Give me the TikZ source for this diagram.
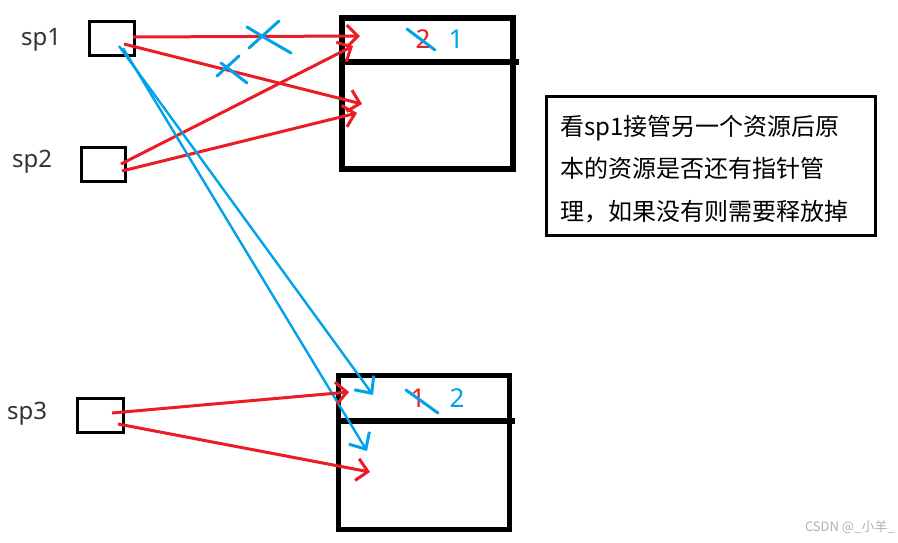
\documentclass[tikz,border=0pt]{standalone}
\usepackage{fontspec}
\setmainfont{Noto Sans}
\newfontfamily\cjk{Noto Sans CJK SC}
\usetikzlibrary{arrows.meta}
\definecolor{pred}{HTML}{ED1C24}
\definecolor{pblue}{HTML}{00A2E8}
\tikzset{
  ptr/.style={draw=black,line width=3pt,inner sep=0pt},
  res/.style={draw=black,line width=5.5pt,inner sep=0pt},
  lbl/.style={font=\fontsize{24}{28}\selectfont,text=black!80,inner sep=0pt},
  num/.style={font=\fontsize{26}{28}\selectfont,inner sep=0pt},
  redarr/.style={draw=pred,line width=3pt,-{Straight Barb[length=11pt,width=22pt,line width=3pt]}},
  bluearr/.style={draw=pblue,line width=2.4pt,-{Straight Barb[length=13pt,width=24pt,line width=3pt]}},
  strike/.style={draw=pblue,line width=3pt,line cap=round},
}
\begin{document}
\begin{tikzpicture}[x=1pt,y=-1pt]
\useasboundingbox[fill=white] (0,0) rectangle (898,542);
% pointer boxes
\node[ptr,minimum width=45pt,minimum height=34pt] (sp1) at (112,38.5) {};
\node[ptr,minimum width=44pt,minimum height=34pt] (sp2) at (103.5,164.5) {};
\node[ptr,minimum width=46pt,minimum height=34pt] (sp3) at (100.5,415.5) {};
\node[lbl] (l1) at (41,40) {sp1};
\node[lbl] (l2) at (32,162) {sp2};
\node[lbl] (l3) at (27,414) {sp3};
% resource boxes
\node[res,minimum width=171pt,minimum height=151pt] (top) at (427.5,93.5) {};
\coordinate (tdl) at (342,62);
\coordinate (tdr) at (519,62);
\draw[line width=5.5pt] (tdl) -- (tdr);
\node[res,minimum width=171pt,minimum height=154pt] (bot) at (424,452.5) {};
\coordinate (bdl) at (338,421);
\coordinate (bdr) at (515,421);
\draw[line width=5.5pt] (bdl) -- (bdr);
% counts
\node[num,text=pred] (c2) at (423,39) {2};
\node[num,text=pblue] (c1) at (456,39) {1};
\coordinate (s1a) at (407,29); \coordinate (s1b) at (435,50);
\draw[strike] (s1a) -- (s1b);
\node[num,text=pred] (d1) at (418,398) {1};
\node[num,text=pblue] (d2) at (457,398) {2};
\coordinate (s2a) at (406,390); \coordinate (s2b) at (438,413);
\draw[strike] (s2a) -- (s2b);
% note
\node[draw=black,line width=3pt,minimum width=329pt,minimum height=139pt,inner sep=0pt] (note) at (711,166) {};
\node[anchor=west,align=left,font=\cjk\fontsize{24}{42.5}\selectfont,inner sep=0pt] (notetxt) at (560,169)
  {看sp1接管另一个资源后原\\本的资源是否还有指针管\\理，如果没有则需要释放掉};
% endpoints
\coordinate (a1s) at (133,37); \coordinate (a1e) at (360,36);
\coordinate (a2s) at (124,44); \coordinate (a2e) at (362,104);
\coordinate (a3s) at (121,164); \coordinate (a3e) at (353,46);
\coordinate (a4s) at (122,171); \coordinate (a4e) at (357,113);
\coordinate (b1s) at (119,46); \coordinate (b1e) at (373,395);
\coordinate (b2s) at (123,48); \coordinate (b2e) at (367,451);
\coordinate (c1s) at (112,413); \coordinate (c1e) at (349,392);
\coordinate (c2s) at (118,424); \coordinate (c2e) at (370,472);
% arrows
\draw[redarr] (a1s) -- (a1e);
\draw[redarr] (a2s) -- (a2e);
\draw[redarr] (a3s) -- (a3e);
\draw[redarr] (a4s) -- (a4e);
\draw[bluearr] (b1s) -- (b1e);
\draw[bluearr] (b2s) -- (b2e);
\draw[redarr] (c1s) -- (c1e);
\draw[redarr] (c2s) -- (c2e);
% crosses
\coordinate (x1a) at (249,48); \coordinate (x1b) at (279,21);
\coordinate (x1c) at (247,27); \coordinate (x1d) at (291,53);
\draw[strike] (x1a) -- (x1b); \draw[strike] (x1c) .. controls (265,38) .. (x1d);
\coordinate (x2a) at (217,76); \coordinate (x2b) at (239,56);
\coordinate (x2c) at (221,63); \coordinate (x2d) at (247,83);
\draw[strike] (x2a) -- (x2b); \draw[strike] (x2c) -- (x2d);
% watermark
\node[font=\cjk\fontsize{13}{15}\selectfont,text=black!30,anchor=east,inner sep=0pt] (wm) at (895,527) {CSDN @\_小羊\_};
\end{tikzpicture}
\end{document}
